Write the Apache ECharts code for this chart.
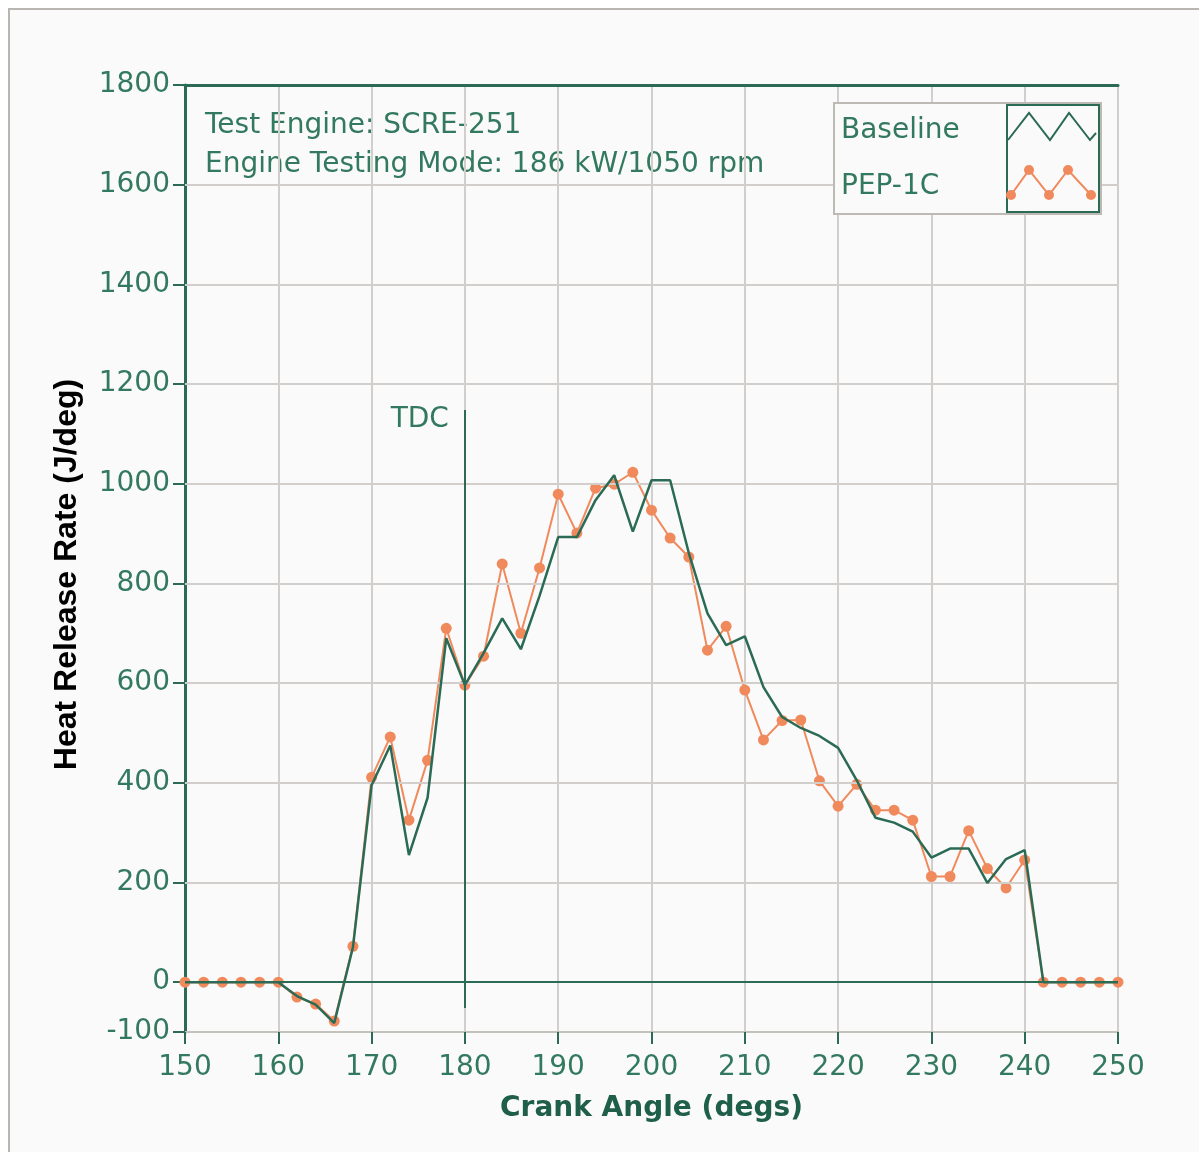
<!DOCTYPE html>
<html><head><meta charset="utf-8">
<script src="https://cdn.jsdelivr.net/npm/echarts@6/dist/echarts.min.js"></script>
<style>
html,body{margin:0;padding:0;background:#fff;}
#wrap{position:relative;width:1199px;height:1152px;overflow:hidden;background:#fff;}
#panel{position:absolute;left:8px;top:8px;width:1300px;height:1300px;background:#fafafa;border-left:2px solid #b9b5b1;border-top:2px solid #b9b5b1;box-sizing:border-box;}
#chart{position:absolute;left:0;top:0;width:1199px;height:1152px;}
</style></head>
<body><div id="wrap"><div id="panel"></div><div id="chart"></div></div>
<script>
// ---- data ----
const baselineAngle = [150,152,154,156,158,160,162,164,166,168,170,172,174,176,178,180,182,184,186,188,190,192,194,196,198,200,202,204,205,206,208,210,212,214,216,218,220,222,224,226,228,230,232,234,236,238,240,242,244,246,248,250];
const baselineRate  = [0,0,0,0,0,0,-28,-45,-82,70,395,475,255,370,690,596,660,730,668,775,893,893,967,1017,904,1007,1007,861,800,740,676,694,592,532,510,494,470,405,330,320,302,250,268,268,199,247,265,0,0,0,0,0];
const pepAngle = [150,152,154,156,158,160,162,164,166,168,170,172,174,176,178,180,182,184,186,188,190,192,194,196,198,200,202,204,206,208,210,212,214,216,218,220,222,224,226,228,230,232,234,236,238,240,242,244,246,248,250];
const pepRate  = [0,0,0,0,0,0,-30,-44,-78,72,411,492,325,445,710,596,654,839,700,831,979,901,991,999,1023,947,891,853,666,714,586,486,525,526,404,353,397,345,345,325,212,212,304,228,189,245,0,0,0,0,0];
const xTicks = [150,160,170,180,190,200,210,220,230,240,250];
const yTicks = [-100,0,200,400,600,800,1000,1200,1400,1600,1800];
const yGrid = [200,400,600,800,1000,1200,1400,1600];
const tdcAngle = 180;
const tdcRange = [1148,-52];
const notes = ['Test Engine: SCRE-251','Engine Testing Mode: 186 kW/1050 rpm'];
const seriesNames = ['Baseline','PEP-1C'];

const GREEN = '#2b6b55';
const TEXTG = '#33795f';
const ORANGE = '#f08a5d';
const GRID = '#d2cecb';
const FONT = 'DejaVu Sans';

const chart = echarts.init(document.getElementById('chart'), null, {renderer:'canvas'});
const zip = (a,b) => a.map((v,i)=>[v,b[i]]);

const option = {
  animation:false,
  backgroundColor:'transparent',
  grid:{left:185, top:85, right:81, bottom:120, show:true, borderColor:'#c4c0bc', borderWidth:2, backgroundColor:'transparent'},
  xAxis:[{
    type:'value', min:150, max:250, interval:10, position:'bottom',
    axisLine:{show:true, onZero:false, lineStyle:{color:'#c4c0bc', width:2}},
    axisTick:{show:true, length:12, inside:false, lineStyle:{color:GREEN, width:2}},
    axisLabel:{color:TEXTG, fontFamily:FONT, fontSize:28, margin:22, formatter:v=>String(v)},
    splitLine:{show:true, lineStyle:{color:GRID, width:2}},
    name:'Crank Angle (degs)', nameLocation:'middle', nameGap:63,
    nameTextStyle:{color:'#1f5e48', fontFamily:FONT, fontSize:28, fontWeight:'bold'}
  },{
    type:'value', min:150, max:250, position:'top',
    axisLine:{show:true, onZero:false, lineStyle:{color:GREEN, width:3}},
    axisTick:{show:false}, axisLabel:{show:false}, splitLine:{show:false}
  }],
  yAxis:{
    type:'value', min:-100, max:1800, interval:100,
    axisLine:{show:true, onZero:false, lineStyle:{color:GREEN, width:3}},
    axisTick:{show:true, length:12, customValues:yTicks, lineStyle:{color:GREEN, width:2}},
    axisLabel:{color:TEXTG, fontFamily:FONT, fontSize:28, margin:15, customValues:yTicks, formatter:v=>String(v)},
    splitLine:{show:false},
    name:'Heat Release Rate (J/deg)', nameLocation:'middle', nameGap:102, nameRotate:90,
    nameTextStyle:{color:'#000', fontFamily:'Liberation Sans', fontSize:32, fontWeight:'bold', padding:[0,32,0,0]}
  },
  series:[
    {
      type:'line', name:'grid', data:[], z:1, silent:true,
      markLine:{silent:true, symbol:'none', label:{show:false},
        lineStyle:{color:GRID, width:2, type:'solid'},
        data: yGrid.map(v=>({yAxis:v}))}
    },
    {
      type:'line', name:'axes', data:[], z:4, silent:true,
      markLine:{silent:true, symbol:'none', label:{show:false},
        lineStyle:{color:GREEN, width:2, type:'solid'},
        data:[ {yAxis:0}, [{coord:[tdcAngle,tdcRange[0]]},{coord:[tdcAngle,tdcRange[1]]}] ]},
      markPoint:{silent:true, symbol:'circle', symbolSize:0,
        data:[{coord:[tdcAngle,tdcRange[0]-20], value:'TDC'}],
        label:{show:true, position:'left', distance:16, formatter:'TDC', color:TEXTG, fontFamily:FONT, fontSize:28}}
    },
    {
      type:'line', name:seriesNames[1], data:zip(pepAngle,pepRate), z:3,
      symbol:'circle', symbolSize:11, showSymbol:true,
      lineStyle:{color:ORANGE, width:2}, itemStyle:{color:ORANGE}
    },
    {
      type:'line', name:seriesNames[0], data:zip(baselineAngle,baselineRate), z:5,
      symbol:'none', lineStyle:{color:GREEN, width:2.5}, itemStyle:{color:GREEN}
    }
  ],
  graphic:[
    {type:'text', left:205, top:112, style:{text:notes[0], fill:TEXTG, font:'28px "DejaVu Sans"'}},
    {type:'text', left:205, top:151, style:{text:notes[1], fill:TEXTG, font:'28px "DejaVu Sans"'}},
    {type:'rect', shape:{x:834,y:103,width:267,height:111}, style:{fill:'#fafafa', stroke:'#bdb9b5', lineWidth:2}, z:10},
    {type:'rect', shape:{x:1007,y:105,width:92,height:107}, style:{fill:'none', stroke:GREEN, lineWidth:2}, z:11},
    {type:'text', x:841, y:117, style:{text:seriesNames[0], fill:TEXTG, font:'28px "DejaVu Sans"'}, z:11},
    {type:'text', x:841, y:173, style:{text:seriesNames[1], fill:TEXTG, font:'28px "DejaVu Sans"'}, z:11},
    {type:'polyline', shape:{points:[[1008,140],[1029,113],[1050,140],[1069,113],[1090,140],[1096,133]]}, style:{stroke:GREEN, lineWidth:2, fill:'none'}, z:11},
    {type:'polyline', shape:{points:[[1011,195],[1029,170],[1049,195],[1068,170],[1091,195]]}, style:{stroke:ORANGE, lineWidth:2, fill:'none'}, z:11},
    {type:'circle', shape:{cx:1011,cy:195,r:5}, style:{fill:ORANGE}, z:12},
    {type:'circle', shape:{cx:1029,cy:170,r:5}, style:{fill:ORANGE}, z:12},
    {type:'circle', shape:{cx:1049,cy:195,r:5}, style:{fill:ORANGE}, z:12},
    {type:'circle', shape:{cx:1068,cy:170,r:5}, style:{fill:ORANGE}, z:12},
    {type:'circle', shape:{cx:1091,cy:195,r:5}, style:{fill:ORANGE}, z:12}
  ]
};
chart.setOption(option);
</script></body></html>
